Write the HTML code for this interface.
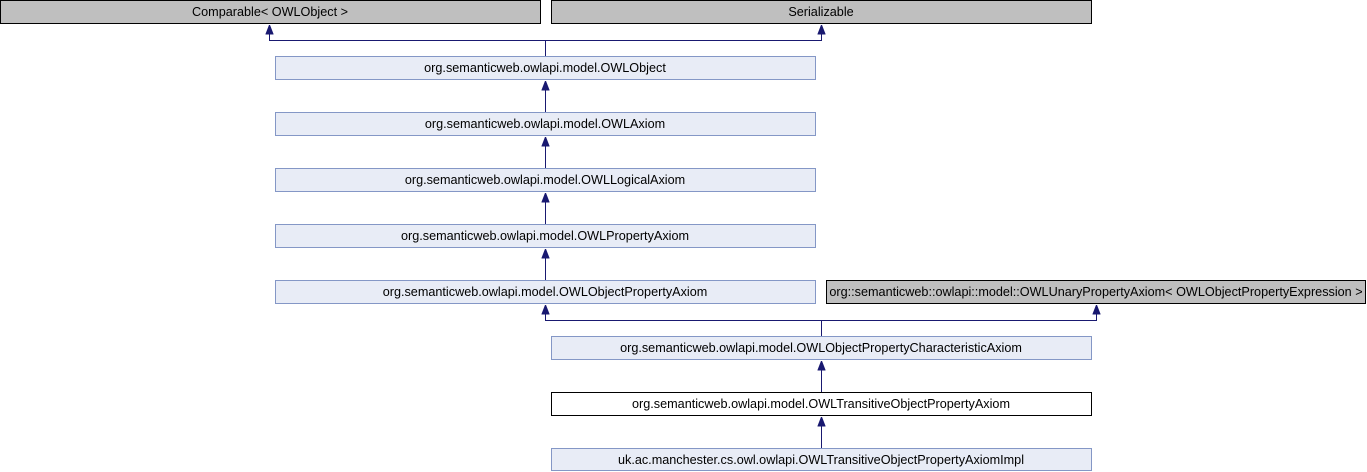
<!DOCTYPE html>
<html><head><style>body{margin:0;background:#fff}svg{display:block}</style></head><body>
<svg width="1367" height="472" xmlns="http://www.w3.org/2000/svg" font-family="Liberation Sans, Arial, sans-serif" font-size="12.65">
<defs><marker id="a" markerWidth="8" markerHeight="10" refX="4" refY="0" orient="0" markerUnits="userSpaceOnUse"><path d="M0.5,9 L4,0 L7.5,9 Z" fill="#191970" stroke="#191970"/></marker></defs>
<g stroke="#191970" fill="none" stroke-width="1">
<path d="M545.5,56 V40.5 H269.5 V25" marker-end="url(#a)"/>
<path d="M545.5,40.5 H821.5 V25" marker-end="url(#a)"/>
<path d="M545.5,112 V81" marker-end="url(#a)"/>
<path d="M545.5,168 V137" marker-end="url(#a)"/>
<path d="M545.5,224 V193" marker-end="url(#a)"/>
<path d="M545.5,280 V249" marker-end="url(#a)"/>
<path d="M821.5,336 V320.5 H545.5 V305" marker-end="url(#a)"/>
<path d="M821.5,320.5 H1096.5 V305" marker-end="url(#a)"/>
<path d="M821.5,392 V361" marker-end="url(#a)"/>
<path d="M821.5,448 V417" marker-end="url(#a)"/>
</g>
<g stroke-width="1">
<rect x="0.5" y="0.5" width="540" height="23" fill="#bfbfbf" stroke="#000"/>
<rect x="551.5" y="0.5" width="540" height="23" fill="#bfbfbf" stroke="#000"/>
<rect x="275.5" y="56.5" width="540" height="23" fill="#e8ecf6" stroke="#8497c6"/>
<rect x="275.5" y="112.5" width="540" height="23" fill="#e8ecf6" stroke="#8497c6"/>
<rect x="275.5" y="168.5" width="540" height="23" fill="#e8ecf6" stroke="#8497c6"/>
<rect x="275.5" y="224.5" width="540" height="23" fill="#e8ecf6" stroke="#8497c6"/>
<rect x="275.5" y="280.5" width="540" height="23" fill="#e8ecf6" stroke="#8497c6"/>
<rect x="826.5" y="280.5" width="539" height="23" fill="#bfbfbf" stroke="#000"/>
<rect x="551.5" y="336.5" width="540" height="23" fill="#e8ecf6" stroke="#8497c6"/>
<rect x="551.5" y="392.5" width="540" height="23" fill="#fff" stroke="#000"/>
<rect x="551.5" y="448.5" width="540" height="22" fill="#e8ecf6" stroke="#8497c6"/>
</g>
<g fill="#000" text-anchor="middle">
<text x="270" y="16">Comparable&lt; OWLObject &gt;</text>
<text x="821" y="16">Serializable</text>
<text x="545" y="72">org.semanticweb.owlapi.model.OWLObject</text>
<text x="545" y="128">org.semanticweb.owlapi.model.OWLAxiom</text>
<text x="545" y="184">org.semanticweb.owlapi.model.OWLLogicalAxiom</text>
<text x="545" y="240">org.semanticweb.owlapi.model.OWLPropertyAxiom</text>
<text x="545" y="296">org.semanticweb.owlapi.model.OWLObjectPropertyAxiom</text>
<text x="1096" y="296">org::semanticweb::owlapi::model::OWLUnaryPropertyAxiom&lt; OWLObjectPropertyExpression &gt;</text>
<text x="821" y="352">org.semanticweb.owlapi.model.OWLObjectPropertyCharacteristicAxiom</text>
<text x="821" y="408">org.semanticweb.owlapi.model.OWLTransitiveObjectPropertyAxiom</text>
<text x="821" y="464">uk.ac.manchester.cs.owl.owlapi.OWLTransitiveObjectPropertyAxiomImpl</text>
</g>
</svg>
</body></html>
